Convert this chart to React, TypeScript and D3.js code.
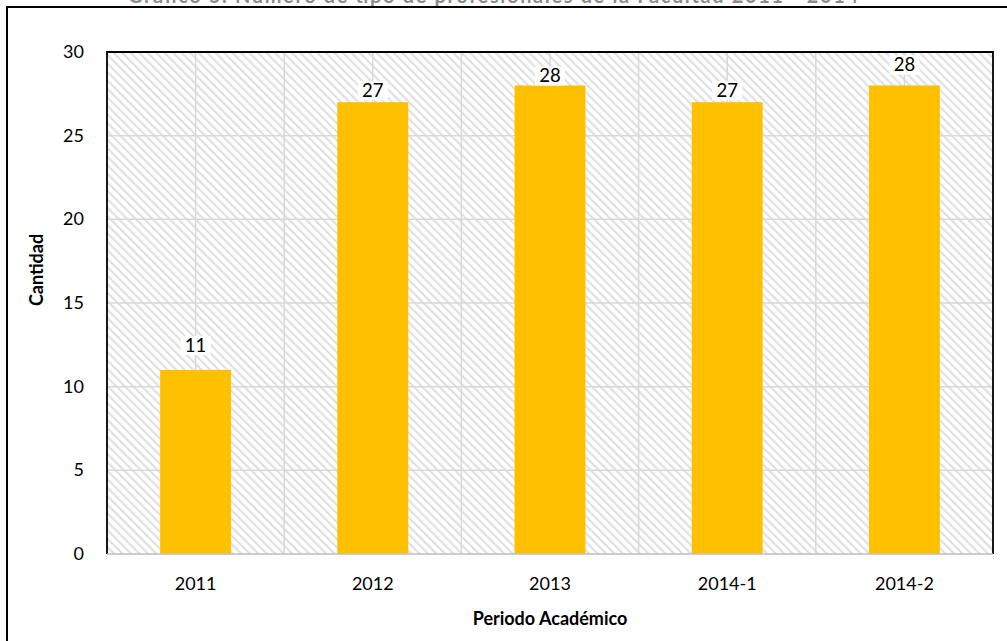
import React from "react";
import * as d3 from "d3";

const categories = ["2011", "2012", "2013", "2014-1", "2014-2"];
const values = [11, 27, 28, 27, 28];
const yTicks = [0, 5, 10, 15, 20, 25, 30];
const labelLift = [18, 5, 3, 5, 14];

const W = 1007;
const H = 641;
const M = { left: 107, top: 52, right: 993, bottom: 554 };
const FONT = "Lato, 'Open Sans', sans-serif";

export default function App() {
  const x = d3
    .scaleBand<string>()
    .domain(categories)
    .range([M.left, M.right])
    .paddingInner(0.6)
    .paddingOuter(0.3);
  const y = d3.scaleLinear().domain([0, 30]).range([M.bottom, M.top]);
  const step = x.step();
  const bw = x.bandwidth();

  const vGrid: number[] = [];
  categories.forEach((c, i) => {
    const center = (x(c) as number) + bw / 2;
    vGrid.push(center);
    if (i > 0) vGrid.push(center - step / 2);
  });

  return (
    <svg
      width={W}
      height={H}
      style={{ position: "absolute", left: 0, top: 0, background: "#fff" }}
      xmlns="http://www.w3.org/2000/svg"
    >
      <defs>
        <pattern
          id="hatch"
          patternUnits="userSpaceOnUse"
          width={6}
          height={6}
          patternTransform="rotate(-45)"
        >
          <rect width={6} height={6} fill="#ffffff" />
          <rect x={0} y={0} width={2.2} height={6} fill="#e0e0e0" />
        </pattern>
      </defs>
      <rect x={0} y={0} width={W} height={H} fill="#fff" />
      {/* Title (mostly cut off at the top edge, as in the reference) */}
      <text
        x={128}
        y={3}
        textLength={730}
        lengthAdjust="spacing"
        fontFamily={FONT}
        fontWeight={700}
        fontSize={20}
        fill="#8c8c8c"
      >
        Gráfico 5. Número de tipo de profesionales de la Facultad 2011 - 2014
      </text>
      {/* Outer chart border */}
      <rect x={7} y={7} width={W + 20} height={H + 20} fill="none" stroke="#000" strokeWidth={2} />

      {/* Plot area */}
      <rect
        x={M.left}
        y={M.top}
        width={M.right - M.left}
        height={M.bottom - M.top}
        fill="url(#hatch)"
      />
      {yTicks
        .filter((t) => t > 0 && t < 30)
        .map((t) => (
          <line
            key={"h" + t}
            x1={M.left}
            x2={M.right}
            y1={y(t)}
            y2={y(t)}
            stroke="#d9d9d9"
            strokeWidth={1.5}
          />
        ))}
      {vGrid.map((gx, i) => (
        <line
          key={"v" + i}
          x1={gx}
          x2={gx}
          y1={M.top}
          y2={M.bottom}
          stroke="#d9d9d9"
          strokeWidth={1.5}
        />
      ))}

      {/* Bars */}
      {categories.map((c, i) => (
        <rect
          key={"b" + c}
          x={x(c)}
          y={y(values[i])}
          width={bw}
          height={y(0) - y(values[i])}
          fill="#FFC000"
        />
      ))}

      {/* Plot border */}
      <path
        d={`M${M.left},${M.bottom} V${M.top} H${M.right} V${M.bottom}`}
        fill="none"
        stroke="#000"
        strokeWidth={1.8}
      />
      <line
        x1={M.left}
        x2={M.right}
        y1={M.bottom}
        y2={M.bottom}
        stroke="#bfbfbf"
        strokeWidth={1.5}
      />

      {/* Value labels */}
      {categories.map((c, i) => {
        const cx = (x(c) as number) + bw / 2;
        const by = y(values[i]) - labelLift[i];
        return (
          <g key={"l" + c}>
            <rect x={cx - 15} y={by - 16} width={30} height={19} fill="#fff" />
            <text
              x={cx}
              y={by}
              textAnchor="middle"
              fontFamily={FONT}
              fontSize={18.5}
              fill="#000"
            >
              {values[i]}
            </text>
          </g>
        );
      })}

      {/* Y tick labels */}
      {yTicks.map((t) => (
        <text
          key={"yt" + t}
          x={84}
          y={y(t) + 6}
          textAnchor="end"
          fontFamily={FONT}
          fontSize={18}
          fill="#000"
        >
          {t}
        </text>
      ))}

      {/* X tick labels */}
      {categories.map((c) => (
        <text
          key={"xt" + c}
          x={(x(c) as number) + bw / 2}
          y={590}
          textAnchor="middle"
          fontFamily={FONT}
          fontSize={18}
          fill="#000"
        >
          {c}
        </text>
      ))}

      {/* Axis titles */}
      <text
        x={(M.left + M.right) / 2}
        y={625}
        textAnchor="middle"
        fontFamily={FONT}
        fontWeight={700}
        fontSize={18}
        fill="#000"
      >
        Periodo Académico
      </text>
      <text
        transform={`translate(43,270) rotate(-90)`}
        textAnchor="middle"
        fontFamily={FONT}
        fontWeight={700}
        fontSize={18}
        fill="#000"
      >
        Cantidad
      </text>
    </svg>
  );
}
